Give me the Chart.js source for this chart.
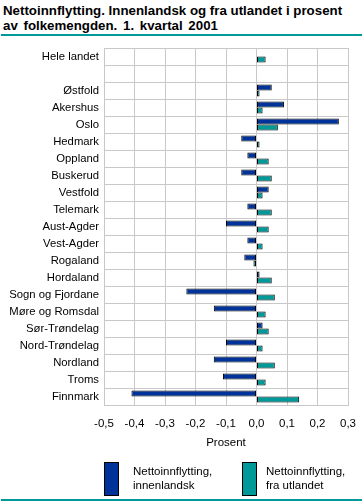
<!DOCTYPE html>
<html>
<head>
<meta charset="utf-8">
<script src="https://cdn.jsdelivr.net/npm/chart.js@4"></script>
<style>
  html, body { margin:0; padding:0; background:#fff; }
  #wrap { position:relative; width:362px; height:502px; overflow:hidden; font-family:"Liberation Sans", Arial, sans-serif; }
  #title { position:absolute; left:3px; top:3px; font-weight:bold; font-size:13.3px; line-height:15px; color:#000; white-space:nowrap; }
  #title span { word-spacing:2px; }
  .rule { position:absolute; left:1px; width:361px; height:2px; background:#009999; }
  #cv { position:absolute; left:0; top:0; }
  .lbox { position:absolute; width:13px; height:32px; border:1px solid #000; }
  .ltxt { position:absolute; font-size:11.5px; line-height:14px; color:#000; white-space:nowrap; }
</style>
</head>
<body>
<div id="wrap">
  <div id="title">Nettoinnflytting. Innenlandsk og fra utlandet i prosent<br><span>av folkemengden. 1. kvartal 2001</span></div>
  <div class="rule" style="top:34px"></div>
  <canvas id="cv" width="362" height="502"></canvas>
  <div class="lbox" style="left:104px; top:462px; background:#003399"></div>
  <div class="ltxt" style="left:133px; top:464px">Nettoinnflytting,<br>innenlandsk</div>
  <div class="lbox" style="left:242px; top:462px; background:#009999"></div>
  <div class="ltxt" style="left:266px; top:464px">Nettoinnflytting,<br>fra utlandet</div>
  <div class="rule" style="top:499px"></div>
</div>
<script>
const categories = ["Hele landet", "", "Østfold", "Akershus", "Oslo", "Hedmark", "Oppland", "Buskerud", "Vestfold", "Telemark", "Aust-Agder", "Vest-Agder", "Rogaland", "Hordaland", "Sogn og Fjordane", "Møre og Romsdal", "Sør-Trøndelag", "Nord-Trøndelag", "Nordland", "Troms", "Finnmark"];
const innenlandsk = [0.00, null, 0.05, 0.09, 0.27, -0.05, -0.03, -0.05, 0.04, -0.03, -0.10, -0.03, -0.04, 0.01, -0.23, -0.14, 0.02, -0.10, -0.14, -0.11, -0.41];
const fraUtlandet = [0.03, null, 0.01, 0.02, 0.07, 0.01, 0.04, 0.05, 0.02, 0.05, 0.04, 0.02, -0.01, 0.05, 0.06, 0.03, 0.04, 0.02, 0.06, 0.03, 0.14];
const seriesNames = ["Nettoinnflytting, innenlandsk", "Nettoinnflytting, fra utlandet"];
const xMin = -0.5, xMax = 0.3, xStep = 0.1;

const FONT = "'Liberation Sans', Arial, sans-serif";
new Chart(document.getElementById('cv'), {
  type: 'bar',
  data: {
    labels: categories,
    datasets: [
      { label: seriesNames[0], data: innenlandsk, backgroundColor: '#003399', borderColor: '#000', borderWidth: 1, borderSkipped: false },
      { label: seriesNames[1], data: fraUtlandet, backgroundColor: '#009999', borderColor: '#000', borderWidth: 1, borderSkipped: false }
    ]
  },
  options: {
    indexAxis: 'y',
    responsive: false,
    animation: false,
    devicePixelRatio: 1,
    categoryPercentage: 0.72,
    barPercentage: 1.0,
    layout: { padding: { top: 48, right: 14, left: 0, bottom: 52 } },
    plugins: { legend: { display: false }, tooltip: { enabled: false } },
    scales: {
      x: {
        min: xMin, max: xMax,
        ticks: {
          stepSize: xStep,
          color: '#000',
          font: { family: FONT, size: 11.5 },
          padding: 5,
          callback: v => (Math.round(v * 10) / 10).toFixed(1).replace('.', ',')
        },
        grid: { color: '#c8c8c8', lineWidth: 1, drawTicks: true, tickLength: 7, tickColor: 'rgba(0,0,0,0)' },
        border: { display: true, color: '#c8c8c8' },
        title: { display: true, text: 'Prosent', color: '#000', font: { family: FONT, size: 11.5 }, padding: { top: 4, bottom: 0 } },
        afterFit: s => { s.height = 45; }
      },
      y: {
        offset: true,
        ticks: { color: '#000', font: { family: FONT, size: 11.3 }, padding: 5, autoSkip: false },
        grid: { offset: true, color: '#c8c8c8', lineWidth: 1, drawTicks: false },
        border: { display: true, color: '#c8c8c8' },
        afterFit: s => { s.width = 104; }
      }
    }
  }
});
</script>
</body>
</html>
